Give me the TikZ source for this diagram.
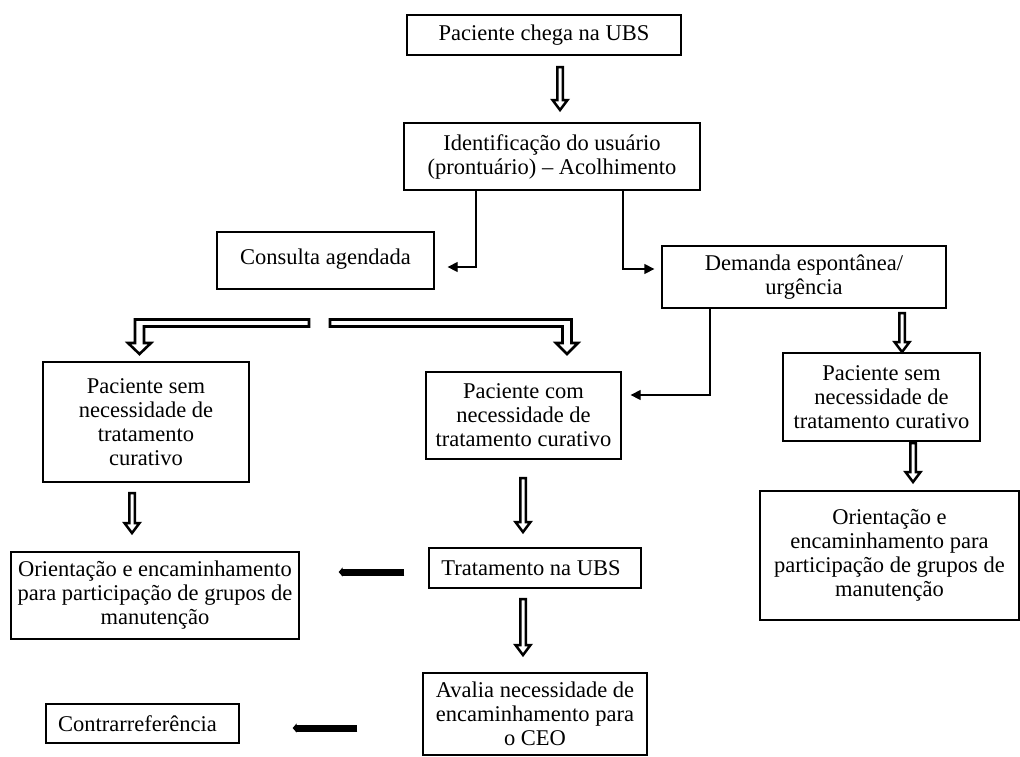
\documentclass[tikz,border=0pt]{standalone}
\usepackage{fontspec}
\setmainfont{Liberation Serif}
\usetikzlibrary{arrows.meta,calc}
\tikzset{
  box/.style={draw, line width=1.3pt, inner sep=0pt, align=center,
    font=\fontsize{22.5}{24}\selectfont},
  conn/.style={line width=1.3pt, -{Triangle[length=10pt,width=10pt]}},
  bigarrow/.style={line width=7pt, -{Triangle[length=4pt,width=9pt]}},
  hollow/.style={draw, line width=2.5pt, fill=white, line join=miter},
  hollowbent/.style={draw, line width=2.6pt, fill=white, line join=miter}
}
\newcommand{\hollowdown}[2]{%
  \draw[hollow] ($(#1)+(-2.75,0)$) -- ($(#1)+(2.75,0)$) -- ($(#2)+(2.75,-10)$)
    -- ($(#2)+(7.5,-10)$) -- (#2) -- ($(#2)+(-7.5,-10)$) -- ($(#2)+(-2.75,-10)$) -- cycle;}
\begin{document}
\begin{tikzpicture}[x=1pt,y=-1pt]
\useasboundingbox (0,0) rectangle (1020,756);

% boxes
\node[box, minimum width=274pt, minimum height=40pt] (start) at (544,35) {Paciente chega na UBS};
\node[box, minimum width=296pt, minimum height=67pt] (ident) at (552,156.5) {Identificação do usuário\\(prontuário) -- Acolhimento};
\node[box, minimum width=217pt, minimum height=57pt] (cons) at (325.5,260.5) {\raisebox{7pt}{Consulta agendada}};
\node[box, minimum width=284pt, minimum height=62pt] (dem) at (804,277) {Demanda espontânea/\\urgência};
\node[box, minimum width=206pt, minimum height=120pt] (sem1) at (146,422) {Paciente sem\\necessidade de\\tratamento\\curativo};
\node[box, minimum width=195pt, minimum height=87pt] (com) at (523.5,415.5) {Paciente com\\necessidade de\\tratamento curativo};
\node[box, minimum width=197pt, minimum height=88pt] (sem2) at (881.5,397) {Paciente sem\\necessidade de\\tratamento curativo};
\node[box, minimum width=288pt, minimum height=87pt] (ori1) at (155,595.5) {Orientação e encaminhamento\\para participação de grupos de\\manutenção};
\node[box, minimum width=212pt, minimum height=40pt] (trat) at (535,568) {Tratamento na UBS\hspace*{8pt}};
\node[box, minimum width=259pt, minimum height=129pt] (ori2) at (889.5,555.5) {\raisebox{9pt}{\begin{tabular}{@{}c@{}}Orientação e\\encaminhamento para\\participação de grupos de\\manutenção\end{tabular}}};
\node[box, minimum width=224pt, minimum height=82pt] (aval) at (535,714) {Avalia necessidade de\\encaminhamento para\\o CEO};
\node[box, minimum width=193pt, minimum height=39pt] (contra) at (142.5,723.5) {Contrarreferência\hspace*{10pt}};

% thin connectors
\draw[conn] ($(ident.south)+(-76,0)$) |- ($(cons.east)+(13,6.5)$);
\draw[conn] ($(ident.south)+(71,0)$) |- ($(dem.west)+(-7,-8)$);
\draw[conn] ($(dem.south)+(-94,0)$) |- ($(com.east)+(9,-20.5)$);

% thick black arrows
\draw[bigarrow, shorten <=24pt, shorten >=39pt] ($(trat.west)+(0,4)$) -- ($(ori1.east)+(0,-23.5)$);
\draw[bigarrow, shorten <=65pt, shorten >=53pt] ($(aval.west)+(0,14)$) -- ($(contra.east)+(0,4.5)$);

% hollow straight arrows
\coordinate (a1s) at (560,67);  \coordinate (a1e) at (560,110);
\coordinate (a2s) at (902,313); \coordinate (a2e) at (902,352);
\coordinate (a3s) at (913,443); \coordinate (a3e) at (913,482);
\coordinate (a4s) at (132,493); \coordinate (a4e) at (132,533);
\coordinate (a5s) at (523,478); \coordinate (a5e) at (523,532);
\coordinate (a6s) at (523,599); \coordinate (a6e) at (523,655);
\hollowdown{a1s}{a1e}
\hollowdown{a2s}{a2e}
\hollowdown{a3s}{a3e}
\hollowdown{a4s}{a4e}
\hollowdown{a5s}{a5e}
\hollowdown{a6s}{a6e}

% hollow bent arrows
\draw[hollowbent] (309,319.5) -- (135,319.5) -- (135,343) -- (128,343) -- (139.5,354)
  -- (151,343) -- (144,343) -- (144,326.5) -- (309,326.5) -- cycle;
\draw[hollowbent] (330,319.5) -- (571.5,319.5) -- (571.5,343) -- (578,343) -- (567,354)
  -- (556,343) -- (562.5,343) -- (562.5,326.5) -- (330,326.5) -- cycle;
\end{tikzpicture}
\end{document}
